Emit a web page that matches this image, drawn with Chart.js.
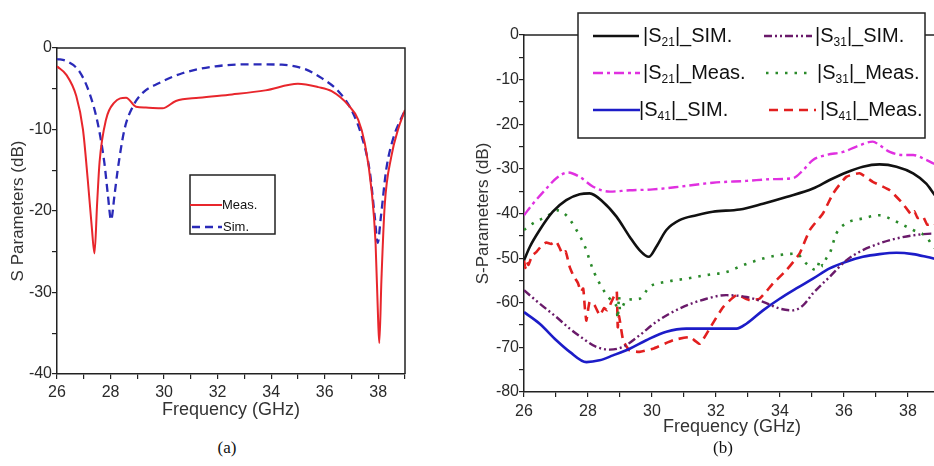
<!DOCTYPE html>
<html>
<head>
<meta charset="utf-8">
<script src="https://cdn.jsdelivr.net/npm/chart.js@4.4.1/dist/chart.umd.min.js"></script>
<style>
  html, body { margin: 0; padding: 0; background: #fff; width: 934px; height: 466px; overflow: hidden; position: relative; }
  canvas { position: absolute; }
  #chartA { left: 0; top: 0; }
  #chartB { left: 472px; top: 0; }
  .cap { position: absolute; top: 438px; width: 60px; text-align: center; font-family: "Liberation Serif", serif; font-size: 17px; color: #111; }
</style>
</head>
<body>
<canvas id="chartA" width="420" height="430"></canvas>
<canvas id="chartB" width="493" height="440"></canvas>
<div class="cap" style="left:197px">(a)</div>
<div class="cap" style="left:693px">(b)</div>
<script>
// ---- panel (a): reflection, meas vs sim ----
const freqA_meas = [26.0, 26.35, 26.72, 26.97, 27.15, 27.3, 27.4, 27.5, 27.59, 27.83, 28.14, 28.58, 28.95, 29.32, 29.94, 30.44, 31.3, 32.54, 33.78, 35.0, 35.76, 36.26, 36.88, 37.25, 37.5, 37.75, 37.9, 38.0, 38.04, 38.12, 38.24, 38.49, 38.74, 39.0];
const dbA_meas   = [-2.25, -3.3, -5.9, -10, -16.2, -22, -25.2, -19, -14, -8.8, -6.7, -6.1, -7.2, -7.3, -7.4, -6.5, -6.1, -5.7, -5.2, -4.4, -4.8, -5.3, -7.0, -8.8, -11.7, -17.4, -23.9, -33.7, -36.2, -28.4, -19.4, -13.3, -10, -7.6];
const freqA_sim  = [26.0, 26.35, 26.84, 27.21, 27.52, 27.77, 27.9, 28.02, 28.15, 28.27, 28.52, 28.83, 29.2, 29.82, 30.68, 31.92, 33.16, 34.4, 35.27, 35.89, 36.51, 37.0, 37.38, 37.69, 37.87, 37.98, 38.1, 38.3, 38.55, 39.0];
const dbA_sim    = [-1.35, -1.6, -2.9, -5.5, -9.2, -14.1, -18, -21.1, -18, -14.9, -10, -7.2, -5.5, -4.3, -3.1, -2.25, -2.0, -2.05, -2.6, -3.7, -5.3, -7.6, -10.8, -15.3, -20.7, -23.9, -20.7, -14.9, -11.2, -7.6];
const legendA = ['Meas.', 'Sim.'];

// ---- panel (b): transmission / coupling ----
const s21SimF  = [26.0, 26.18, 26.49, 26.9, 27.32, 27.74, 28.05, 28.47, 28.89, 29.3, 29.61, 29.9, 30.13, 30.45, 30.86, 31.39, 31.9, 32.74, 33.47, 34.2, 35.03, 35.55, 36.07, 36.59, 37.11, 37.64, 38.16, 38.57, 38.8, 39.0];
const s21SimDb = [-50.5, -47.5, -43.7, -39.6, -37, -35.7, -35.5, -37.4, -40.7, -45.2, -48.2, -49.7, -47.5, -43.7, -41.5, -40.4, -39.6, -39.1, -37.8, -36.3, -34.4, -32.5, -30.8, -29.5, -29, -29.5, -31, -33.3, -35.5, -37.5];
const s21MeasF  = [26.0, 26.28, 26.7, 27.01, 27.37, 27.74, 28.16, 28.68, 29.3, 30.03, 30.86, 31.9, 32.95, 33.78, 34.4, 34.72, 35.03, 35.45, 35.97, 36.39, 36.9, 37.11, 37.43, 37.84, 38.16, 38.57, 38.8, 39.0];
const s21MeasDb = [-40.4, -37.8, -34.4, -32.1, -30.8, -31.8, -34, -35.1, -34.8, -34.6, -34, -33.1, -32.7, -32.3, -32.1, -30.3, -28, -26.9, -26.2, -25, -23.9, -24.7, -26.2, -26.9, -26.9, -28, -28.8, -29.5];
const s31SimF  = [26.0, 26.49, 27.01, 27.43, 27.84, 28.26, 28.68, 29.09, 29.61, 30.13, 30.86, 31.7, 32.32, 32.95, 33.47, 33.99, 34.4, 34.72, 35.03, 35.55, 36.07, 36.59, 37.11, 37.64, 38.16, 38.8, 39.0];
const s31SimDb = [-57.2, -60.2, -63.2, -65.8, -68, -69.9, -70.5, -69.9, -67.3, -64.3, -61.3, -59.1, -58.3, -58.7, -59.8, -61.3, -61.7, -60.6, -57.9, -54.2, -50.5, -48.2, -46.7, -45.6, -44.9, -44.5, -44.5];
const s31MeasF  = [26.0, 26.28, 26.7, 27.06, 27.32, 27.64, 27.95, 28.05, 28.21, 28.42, 28.63, 28.78, 28.89, 28.93, 28.97, 29.0, 29.2, 29.61, 29.93, 30.45, 31.07, 31.7, 32.32, 32.84, 33.47, 33.99, 34.51, 34.82, 35.14, 35.25, 35.34, 35.45, 35.55, 35.76, 36.07, 36.59, 37.11, 37.43, 37.74, 38.16, 38.57, 38.8, 39.0];
const s31MeasDb = [-43.7, -42.2, -40.7, -39.3, -40.4, -43.7, -48.2, -50.5, -53.5, -56.4, -58.7, -59.8, -60.9, -63.5, -58.5, -61.7, -59.4, -59.1, -56.4, -55.3, -54.6, -53.8, -53.1, -51.6, -50.1, -49.3, -49, -51.2, -52.7, -50.5, -51.8, -50, -49, -44.5, -42.2, -41.1, -40.4, -41.1, -42.2, -43.7, -45.2, -47.5, -48.5];
const s41SimF  = [26.0, 26.49, 27.01, 27.43, 27.95, 28.36, 28.78, 29.3, 29.82, 30.45, 31.07, 31.9, 32.64, 32.95, 33.47, 33.99, 34.51, 35.03, 35.55, 36.07, 36.59, 37.11, 37.64, 38.16, 38.57, 38.8, 39.0];
const s41SimDb = [-62.1, -64.7, -68.4, -71, -73.3, -72.9, -71.8, -70.3, -68.4, -66.5, -65.8, -65.8, -65.8, -64.7, -61.7, -59.1, -56.8, -54.6, -52.3, -50.8, -49.7, -49.1, -48.8, -49.1, -49.7, -50.1, -50.5];
const s41MeasF  = [26.0, 26.04, 26.08, 26.14, 26.25, 26.39, 26.55, 26.7, 26.85, 27.0, 27.1, 27.2, 27.3, 27.43, 27.55, 27.68, 27.78, 27.85, 27.9, 27.95, 28.05, 28.2, 28.37, 28.5, 28.6, 28.72, 28.85, 28.9, 28.93, 28.97, 29.1, 29.3, 29.61, 30.03, 30.66, 31.18, 31.49, 31.8, 32.22, 32.64, 33.05, 33.36, 33.78, 34.2, 34.61, 34.93, 35.34, 35.66, 36.07, 36.49, 36.9, 37.43, 37.84, 38.1, 38.2, 38.3, 38.47, 38.6, 38.8, 39.0];
const s41MeasDb = [-50.5, -52.2, -50.8, -51.5, -49.5, -48.6, -47.2, -46.5, -46.8, -46.2, -47.5, -49, -48.5, -52, -54, -55.5, -57.5, -56.8, -61, -64, -59.8, -60.5, -62.8, -61.2, -61.7, -60, -58, -57.5, -65.5, -63, -68.5, -70.7, -71, -70.3, -68.4, -67.7, -69.2, -65.8, -61, -58.3, -59.4, -59.1, -55.7, -52.7, -49, -43.7, -40, -35.5, -31.8, -31, -32.9, -34.8, -37.8, -40.2, -39.5, -41, -40.7, -42.5, -42.2, -43.5];
const legendB = [
  ['|S', '21', '|_SIM.'],
  ['|S', '21', '|_Meas.'],
  ['|S', '31', '|_SIM.'],
  ['|S', '31', '|_Meas.'],
  ['|S', '41', '|_SIM.'],
  ['|S', '41', '|_Meas.']
];

const pts = (xs, ys) => xs.map((x, i) => ({ x: x, y: ys[i] }));

const TICK_FONT = { family: '"Liberation Sans", Arial, sans-serif', size: 16 };
const INK = '#222';

// draws a label made of [main, subscript, main] pieces
function drawParts(ctx, parts, x, y, size) {
  let cx = x;
  parts.forEach((p, i) => {
    const sub = parts.length > 1 && i === 1;
    ctx.font = (sub ? Math.round(size * 0.6) : size) + 'px "Liberation Sans", Arial, sans-serif';
    ctx.fillText(p, cx, sub ? y + size * 0.32 : y);
    cx += ctx.measureText(p).width;
  });
}

// frame of the plot box + boxed legend inside the plot
const frameLegend = {
  id: 'frameLegend',
  afterDraw(chart, args, opts) {
    const ctx = chart.ctx, a = chart.chartArea;
    ctx.save();
    ctx.strokeStyle = INK;
    ctx.lineWidth = 1.5;
    ctx.beginPath();
    ctx.moveTo(a.left, a.top);
    ctx.lineTo(a.right, a.top);
    if (opts.closeRight) ctx.lineTo(a.right, a.bottom);
    ctx.stroke();

    const [bx, by, bw, bh] = opts.box;
    ctx.fillStyle = '#fff';
    ctx.fillRect(bx, by, bw, bh);
    ctx.strokeRect(bx, by, bw, bh);

    opts.items.forEach((it, i) => {
      const ds = chart.data.datasets[it.ds];
      ctx.strokeStyle = ds.borderColor;
      ctx.lineWidth = ds.borderWidth;
      ctx.lineCap = ds.borderCapStyle || 'butt';
      ctx.setLineDash(ds.borderDash || []);
      ctx.beginPath();
      ctx.moveTo(it.x1, it.y);
      ctx.lineTo(it.x2, it.y);
      ctx.stroke();
      ctx.setLineDash([]);
      ctx.fillStyle = '#111';
      ctx.textBaseline = 'middle';
      ctx.textAlign = 'left';
      drawParts(ctx, opts.labels[i], it.tx, it.y, opts.fontSize);
    });
    ctx.restore();
  }
};

function axisX(min, max, labelPad, titlePad, height) {
  return {
    type: 'linear', min: min, max: max,
    afterFit: s => { s.height = height; },
    ticks: { stepSize: 1, padding: labelPad, color: '#2a2a2a', font: TICK_FONT, maxRotation: 0, autoSkip: false,
             callback: v => (v % 2 === 0 ? v : '') },
    grid: { drawOnChartArea: false, drawTicks: true, tickLength: 5, color: INK, lineWidth: 1.2 },
    border: { display: true, color: INK, width: 1.5 },
    title: { display: true, text: 'Frequency (GHz)', color: '#333',
             font: { family: '"Liberation Sans", Arial, sans-serif', size: 18 }, padding: { top: 0, bottom: titlePad } }
  };
}

function axisY(min, width, title, titlePad) {
  return {
    min: min, max: 0,
    afterFit: s => { s.width = width; },
    ticks: { stepSize: 5, padding: 0, color: '#2a2a2a', font: TICK_FONT, autoSkip: false,
             callback: v => (v % 10 === 0 ? v : '') },
    grid: { drawOnChartArea: false, drawTicks: true, tickLength: 5, color: INK, lineWidth: 1.2 },
    border: { display: true, color: INK, width: 1.5 },
    title: { display: true, text: title, color: '#333',
             font: { family: '"Liberation Sans", Arial, sans-serif', size: 17 }, padding: { top: titlePad, bottom: 0 } }
  };
}

const lineBase = { pointRadius: 0, fill: false, cubicInterpolationMode: 'monotone', borderWidth: 2 };

new Chart(document.getElementById('chartA'), {
  type: 'line',
  data: {
    datasets: [
      Object.assign({}, lineBase, { label: legendA[0], data: pts(freqA_meas, dbA_meas), borderColor: '#e8262c' }),
      Object.assign({}, lineBase, { label: legendA[1], data: pts(freqA_sim, dbA_sim), borderColor: '#2a2ab8', borderDash: [8, 5], borderWidth: 2.3 })
    ]
  },
  options: {
    responsive: false, animation: false,
    layout: { padding: { top: 48, right: 15, left: 0, bottom: 0 } },
    scales: { x: axisX(26, 39, 4, 9, 56), y: axisY(-40, 57, 'S Parameters (dB)', 8) },
    plugins: {
      legend: { display: false }, tooltip: { enabled: false },
      frameLegend: {
        closeRight: true, box: [190, 175, 85, 59], fontSize: 13,
        labels: legendA.map(t => [t]),
        items: [
          { ds: 0, x1: 190, x2: 222, y: 205, tx: 222 },
          { ds: 1, x1: 192, x2: 222, y: 227, tx: 223 }
        ]
      }
    }
  },
  plugins: [frameLegend]
});

new Chart(document.getElementById('chartB'), {
  type: 'line',
  data: {
    datasets: [
      Object.assign({}, lineBase, { label: 'S21 SIM', data: pts(s21SimF, s21SimDb), borderColor: '#111111', borderWidth: 2.6 }),
      Object.assign({}, lineBase, { label: 'S21 Meas', data: pts(s21MeasF, s21MeasDb), borderColor: '#e030e0', borderWidth: 2.4, borderDash: [10, 4, 3, 4] }),
      Object.assign({}, lineBase, { label: 'S31 SIM', data: pts(s31SimF, s31SimDb), borderColor: '#6a1a6a', borderWidth: 2.4, borderDash: [8, 3, 2, 3, 2, 3] }),
      Object.assign({}, lineBase, { label: 'S31 Meas', data: pts(s31MeasF, s31MeasDb), borderColor: '#2a8a2a', borderWidth: 2.6, borderDash: [2.5, 7] }),
      Object.assign({}, lineBase, { label: 'S41 SIM', data: pts(s41SimF, s41SimDb), borderColor: '#1c1cc8', borderWidth: 2.6 }),
      Object.assign({}, lineBase, { label: 'S41 Meas', data: pts(s41MeasF, s41MeasDb), borderColor: '#e21f1f', borderWidth: 2.6, borderDash: [9, 6], cubicInterpolationMode: 'default', tension: 0.15 })
    ]
  },
  options: {
    responsive: false, animation: false,
    layout: { padding: { top: 35, right: 25, left: 0, bottom: 0 } },
    scales: { x: axisX(26, 39, 5, 2, 48), y: axisY(-80, 52, 'S-Parameters (dB)', 1) },
    plugins: {
      legend: { display: false }, tooltip: { enabled: false },
      frameLegend: {
        closeRight: false, box: [106, 13, 347, 125], fontSize: 20,
        labels: [legendB[0], legendB[1], legendB[4], legendB[2], legendB[3], legendB[5]],
        items: [
          { ds: 0, x1: 121, x2: 167, y: 36, tx: 171 },
          { ds: 1, x1: 121, x2: 168, y: 73, tx: 171 },
          { ds: 4, x1: 121, x2: 168, y: 110, tx: 167 },
          { ds: 2, x1: 292, x2: 340, y: 36, tx: 343 },
          { ds: 3, x1: 294, x2: 341, y: 73, tx: 345 },
          { ds: 5, x1: 297, x2: 344, y: 110, tx: 348 }
        ]
      }
    }
  },
  plugins: [frameLegend]
});
</script>
</body>
</html>
